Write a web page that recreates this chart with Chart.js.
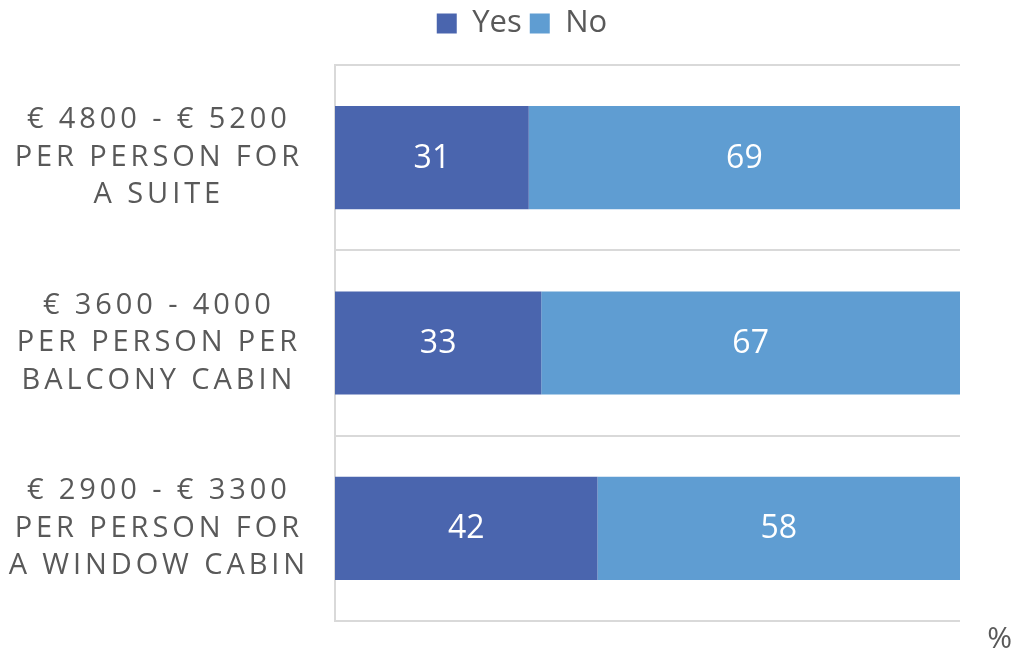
<!DOCTYPE html>
<html>
<head>
<meta charset="utf-8">
<script src="https://cdn.jsdelivr.net/npm/chart.js@4/dist/chart.umd.min.js"></script>
<style>
  html, body { margin: 0; padding: 0; background: #ffffff; }
  #wrap { width: 1012px; height: 654px; position: relative; }
</style>
</head>
<body>
<div id="wrap"><canvas id="c" width="1012" height="654"></canvas></div>
<script>
const categories = [
  ["€ 4800 - € 5200", "PER PERSON FOR", "A SUITE"],
  ["€ 3600 - 4000", "PER PERSON PER", "BALCONY CABIN"],
  ["€ 2900 - € 3300", "PER PERSON FOR", "A WINDOW CABIN"]
];
const seriesNames = ["Yes", "No"];
const yesValues = [31, 33, 42];
const noValues = [69, 67, 58];
const axisUnit = "%";

const FONT = "'Open Sans', 'Noto Sans', sans-serif";
const TEXT = "#595959";
const LABEL_SPACING = "3.9px";

class SpacedCategoryScale extends Chart.CategoryScale {
  _computeLabelSizes(...args) {
    const ctx = this.ctx;
    ctx.save();
    ctx.letterSpacing = LABEL_SPACING;
    const r = super._computeLabelSizes(...args);
    ctx.restore();
    return r;
  }
  draw(area) {
    const ctx = this.ctx;
    ctx.save();
    ctx.letterSpacing = LABEL_SPACING;
    super.draw(area);
    ctx.restore();
  }
}
SpacedCategoryScale.id = "spacedCategory";
SpacedCategoryScale.defaults = Chart.CategoryScale.defaults;
Chart.register(SpacedCategoryScale);

const legendFix = {
  id: "legendFix",
  beforeLayout(chart) {
    const lg = chart.legend;
    if (lg && !lg._hfix) {
      const f = lg.fit.bind(lg);
      lg.fit = function () { f(); this.height = 65; };
      lg._hfix = true;
    }
  },
  afterLayout(chart) {
    const lg = chart.legend;
    if (lg) { lg.left += 32; }
  }
};

const valueLabels = {
  id: "valueLabels",
  afterDatasetsDraw(chart) {
    const ctx = chart.ctx;
    ctx.save();
    ctx.letterSpacing = "0px";
    ctx.font = "32px " + FONT;
    ctx.fillStyle = "#ffffff";
    ctx.textAlign = "center";
    ctx.textBaseline = "middle";
    chart.data.datasets.forEach((ds, di) => {
      const meta = chart.getDatasetMeta(di);
      meta.data.forEach((el, i) => {
        const p = el.getCenterPoint();
        ctx.fillText(String(ds.data[i]), p.x, p.y + 1);
      });
    });
    ctx.restore();
  }
};

new Chart(document.getElementById("c"), {
  type: "bar",
  data: {
    labels: categories,
    datasets: [
      { label: seriesNames[0], data: yesValues, backgroundColor: "#4a65ae", borderWidth: 0 },
      { label: seriesNames[1], data: noValues, backgroundColor: "#5f9dd2", borderWidth: 0 }
    ]
  },
  options: {
    indexAxis: "y",
    responsive: false,
    animation: false,
    devicePixelRatio: 1,
    layout: { padding: { left: 0, right: 0, top: 0, bottom: 0 } },
    datasets: { bar: { categoryPercentage: 1, barPercentage: 0.557 } },
    scales: {
      x: {
        stacked: true,
        min: 0,
        max: 100,
        display: false
      },
      y: {
        type: "spacedCategory",
        stacked: true,
        offset: true,
        grid: { offset: true, color: "#d9d9d9", lineWidth: 2, drawTicks: false },
        border: { display: true, color: "#d9d9d9", width: 2 },
        ticks: {
          color: TEXT,
          font: { family: FONT, size: 29, lineHeight: 1.293 },
          crossAlign: "center",
          padding: 26
        },
        afterFit(scale) { scale.width = 335; scale.paddingTop = 0; scale.paddingBottom = 0; }
      },
      yRight: {
        type: "linear",
        position: "right",
        display: true,
        grid: { display: false },
        border: { display: false },
        ticks: { display: false },
        afterFit(scale) { scale.width = 52; scale.paddingTop = 0; scale.paddingBottom = 0; }
      }
    },
    plugins: {
      legend: {
        position: "top",
        align: "center",
        labels: {
          color: TEXT,
          font: { family: FONT, size: 31, lineHeight: 1.0 },
          boxWidth: 20,
          boxHeight: 20,
          padding: 8
        }
      },
      title: {
        display: true,
        text: axisUnit,
        position: "bottom",
        align: "end",
        color: TEXT,
        font: { family: FONT, size: 30, weight: "normal", lineHeight: 1.0 },
        padding: { top: 3, bottom: 0 }
      },
      tooltip: { enabled: false }
    }
  },
  plugins: [legendFix, valueLabels]
});
</script>
</body>
</html>
